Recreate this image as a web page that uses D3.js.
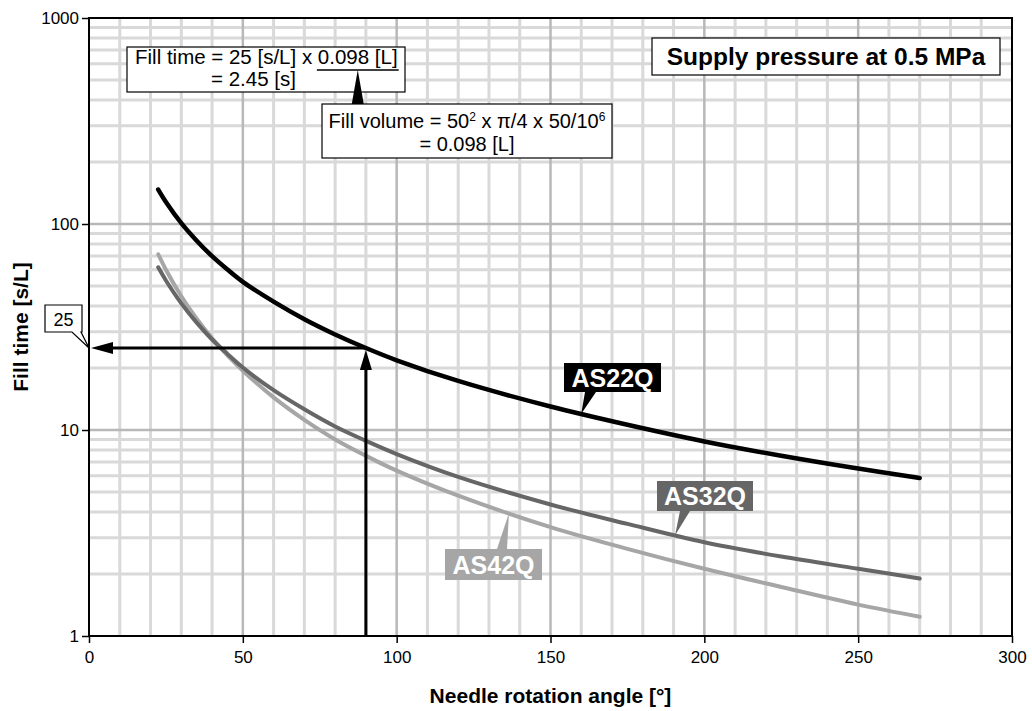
<!DOCTYPE html>
<html><head><meta charset="utf-8">
<script src="https://cdn.jsdelivr.net/npm/d3@7"></script>
<style>
body{margin:0;background:#fff}
svg{display:block}
text{font-family:"Liberation Sans",Arial,Helvetica,sans-serif}
</style>
</head><body>
<svg id="c" width="1032" height="711"></svg>
<script>
// ---------- data ----------
const angles = [22.5,25,30,35,40,45,50,60,70,80,90,100,120,150,175,200,225,250,270];
const as22q  = [147,128,101,83,69.8,60.1,52.4,42,34.5,29.1,25,21.8,17.3,13,10.6,8.8,7.5,6.5,5.85];
const as32q  = [61.6,53.2,41.2,33.2,27.5,23.4,20.1,15.6,12.6,10.4,8.86,7.64,5.92,4.35,3.5,2.85,2.43,2.12,1.9];
const as42q  = [71.3,60,44.6,34.7,27.9,23,19.4,14.4,11.2,9.0,7.5,6.35,4.8,3.38,2.65,2.12,1.73,1.42,1.24];
const seriesNames = ["AS22Q","AS32Q","AS42Q"];
const xTicks = [0,50,100,150,200,250,300];
const yTicks = [1,10,100,1000];
const readAngle = 90, readTime = 25;
const xTitle = "Needle rotation angle [°]";
const yTitle = "Fill time [s/L]";
const noteText = "Supply pressure at 0.5 MPa";

// ---------- setup ----------
const svg = d3.select("#c");
const x = d3.scaleLinear().domain([0,300]).range([89,1012]);
const y = d3.scaleLog().domain([1,1000]).range([636,18]);
const FONT = '"Liberation Sans",Arial,Helvetica,sans-serif';

// grid
const xMinor = d3.range(10,300,10).filter(v=>v%50!==0);
const xMajor = [50,100,150,200,250];
const yMinor = []; [1,10,100].forEach(d=>{for(let k=2;k<=9;k++) yMinor.push(k*d);});
const yMajor = [10,100];
const g = svg.append("g");
g.selectAll(".vx").data(xMinor).join("line")
  .attr("x1",d=>x(d)).attr("x2",d=>x(d)).attr("y1",y(1000)).attr("y2",y(1))
  .attr("stroke","#d9d9d9").attr("stroke-width",3);
g.selectAll(".hy").data(yMinor).join("line")
  .attr("y1",d=>y(d)).attr("y2",d=>y(d)).attr("x1",x(0)).attr("x2",x(300))
  .attr("stroke","#d9d9d9").attr("stroke-width",3);
g.selectAll(".vX").data(xMajor).join("line")
  .attr("x1",d=>x(d)).attr("x2",d=>x(d)).attr("y1",y(1000)).attr("y2",y(1))
  .attr("stroke","#b8b8b8").attr("stroke-width",2.5);
g.selectAll(".hY").data(yMajor).join("line")
  .attr("y1",d=>y(d)).attr("y2",d=>y(d)).attr("x1",x(0)).attr("x2",x(300))
  .attr("stroke","#b8b8b8").attr("stroke-width",2.5);

// axes
const ax = svg.append("g").attr("transform",`translate(0,${y(1)})`)
  .call(d3.axisBottom(x).tickValues(xTicks).tickSize(7).tickPadding(8).tickFormat(d3.format("d")));
const ay = svg.append("g").attr("transform",`translate(${x(0)},0)`)
  .call(d3.axisLeft(y).tickValues(yTicks).tickSize(7).tickPadding(3).tickFormat(d3.format("d")));
[ax,ay].forEach(a=>{
  a.select(".domain").remove();
  a.selectAll(".tick line").attr("stroke","#000").attr("stroke-width",1.5);
  a.selectAll(".tick text").attr("fill","#000").style("font-family",FONT).style("font-size","17px");
});

// plot border
svg.append("rect").attr("x",x(0)).attr("y",y(1000)).attr("width",x(300)-x(0)).attr("height",y(1)-y(1000))
  .attr("fill","none").attr("stroke","#000").attr("stroke-width",2);

// curves
const series = [
  {name:seriesNames[2], vals:as42q, color:"#a6a6a6"},
  {name:seriesNames[1], vals:as32q, color:"#666666"},
  {name:seriesNames[0], vals:as22q, color:"#000000"}
];
const line = d3.line().x(d=>x(d[0])).y(d=>y(d[1])).curve(d3.curveCatmullRom.alpha(0.5));
series.forEach(s=>{
  svg.append("path").datum(angles.map((a,i)=>[a,s.vals[i]]))
    .attr("d",line).attr("fill","none").attr("stroke",s.color)
    .attr("stroke-width",s.color==="#000000"?4.5:4).attr("stroke-linecap","round");
});
function valAt(vals,a){
  for(let i=0;i<angles.length-1;i++){
    if(a>=angles[i]&&a<=angles[i+1]){
      const t=(a-angles[i])/(angles[i+1]-angles[i]);
      return Math.pow(10,Math.log10(vals[i])*(1-t)+Math.log10(vals[i+1])*t);
    }
  }
  return vals[vals.length-1];
}

// reading arrows
const ax90 = x(readAngle), ay25 = y(readTime);
svg.append("line").attr("x1",ax90).attr("x2",ax90).attr("y1",y(1)).attr("y2",ay25+16)
  .attr("stroke","#000").attr("stroke-width",3);
svg.append("path").attr("d",`M${ax90},${ay25+2} L${ax90-6},${ay25+22} L${ax90+6},${ay25+22} Z`).attr("fill","#000");
svg.append("line").attr("x1",ax90).attr("x2",x(0)+18).attr("y1",ay25).attr("y2",ay25)
  .attr("stroke","#000").attr("stroke-width",3);
svg.append("path").attr("d",`M${x(0)+2},${ay25} L${x(0)+24},${ay25-6} L${x(0)+24},${ay25+6} Z`).attr("fill","#000");

// "25" callout
svg.append("path").attr("d",`M45,305 H82 V332 H81 L${x(0)},${ay25} L72,332 H45 Z`)
  .attr("fill","#fff").attr("stroke","#000").attr("stroke-width",1.2);
svg.append("text").attr("x",63.5).attr("y",326).attr("text-anchor","middle")
  .style("font-size","18px").text(String(readTime));

// series labels
const labels = [
  {name:seriesNames[0], vals:as22q, color:"#000", box:[564,363,97,29], base:[585,596], tipA:160, up:false},
  {name:seriesNames[1], vals:as32q, color:"#666", box:[657,481,96,30], base:[680,690], tipA:190.5, up:false},
  {name:seriesNames[2], vals:as42q, color:"#a6a6a6", box:[445,549,97,31], base:[497,507], tipA:136.5, up:true}
];
labels.forEach(l=>{
  const [bx,by,bw,bh]=l.box;
  const tx=x(l.tipA), ty=y(valAt(l.vals,l.tipA));
  const yb = l.up? by : by+bh;
  svg.append("path").attr("d",`M${l.base[0]},${yb} L${l.base[1]},${yb} L${tx},${ty} Z`).attr("fill",l.color);
  svg.append("rect").attr("x",bx).attr("y",by).attr("width",bw).attr("height",bh).attr("fill",l.color);
  svg.append("text").attr("x",bx+bw/2).attr("y",by+bh/2+9).attr("text-anchor","middle")
    .attr("fill","#fff").style("font-weight","bold").style("font-size","25px").text(l.name);
});

// annotation box 1
svg.append("rect").attr("x",127).attr("y",47).attr("width",278).attr("height",45)
  .attr("fill","#fff").attr("stroke","#000").attr("stroke-width",1.2);
const t1 = svg.append("text").attr("x",135).attr("y",64).style("font-size","20.5px");
t1.append("tspan").text("Fill time = 25 [s/L] x ");
t1.append("tspan").text("0.098 [L]");
svg.append("text").attr("x",211).attr("y",86).style("font-size","20.5px").text("= 2.45 [s]");
const full = t1.node();
const pre = "Fill time = 25 [s/L] x ".length;
const ux0 = 135 + full.getSubStringLength(0,pre);
const ux1 = 135 + full.getComputedTextLength();
svg.append("line").attr("x1",ux0-1).attr("x2",ux1+1).attr("y1",70).attr("y2",70).attr("stroke","#000").attr("stroke-width",1.5);

// annotation box 2
svg.append("rect").attr("x",322).attr("y",104).attr("width",290).attr("height",54)
  .attr("fill","#fff").attr("stroke","#000").attr("stroke-width",1.2);
const ucx = (ux0+ux1)/2;
svg.append("path").attr("d",`M${ucx},${70} L${ucx-6},${104} L${ucx+6},${104} Z`).attr("fill","#000");
const t2 = svg.append("text").attr("x",467).attr("y",128).attr("text-anchor","middle").style("font-size","20px");
t2.append("tspan").text("Fill volume = 50");
t2.append("tspan").attr("dy",-7).style("font-size","12px").text("2");
t2.append("tspan").attr("dy",7).text(" x π/4 x 50/10");
t2.append("tspan").attr("dy",-7).style("font-size","12px").text("6");
svg.append("text").attr("x",467).attr("y",151).attr("text-anchor","middle").style("font-size","20px").text("= 0.098 [L]");

// supply pressure box
svg.append("rect").attr("x",652).attr("y",38).attr("width",348).attr("height",37)
  .attr("fill","#fff").attr("stroke","#000").attr("stroke-width",1.2);
svg.append("text").attr("x",826).attr("y",65).attr("text-anchor","middle")
  .style("font-weight","bold").style("font-size","24.5px").text(noteText);

// axis titles
svg.append("text").attr("x",(x(0)+x(300))/2).attr("y",703).attr("text-anchor","middle")
  .style("font-weight","bold").style("font-size","21px").text(xTitle);
svg.append("text").attr("transform",`translate(28,327) rotate(-90)`).attr("text-anchor","middle")
  .style("font-weight","bold").style("font-size","21px").text(yTitle);
</script>
</body></html>
